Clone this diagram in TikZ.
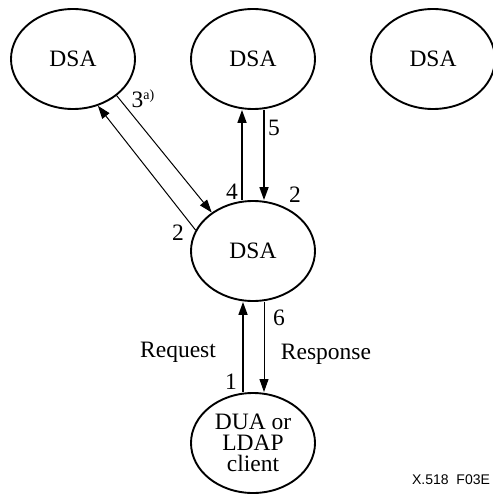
\documentclass[tikz,border=0pt]{standalone}
\usepackage{fontspec}
\setmainfont{Liberation Serif}
\newfontfamily\figsans{Liberation Sans}
\usetikzlibrary{shapes.geometric,arrows.meta}

\begin{document}
\begin{tikzpicture}[x=1pt,y=-1pt]
\tikzstyle{dsa}=[ellipse, draw=black, line width=1.9pt, minimum width=124pt, minimum height=100pt, inner sep=0pt, align=center, font=\fontsize{23.5}{21}\selectfont]
\tikzstyle{boldarr}=[line width=1.7pt, -{Triangle[length=13pt,width=9pt]}]
\tikzstyle{thinarr}=[line width=1pt, -{Triangle[length=13pt,width=9pt]}]
\tikzstyle{num}=[inner sep=0pt, font=\fontsize{23.5}{23.5}\selectfont]

\useasboundingbox (0,0) rectangle (492,497);

\node (dsaleft) at (73,59) [dsa] {DSA};
\node (dsatop) at (253,59) [dsa] {DSA};
\node (dsaright) at (433,59) [dsa] {DSA};
\node (dsamid) at (253,251) [dsa] {DSA};
\node (client) at (253,443) [dsa] {DUA or\\LDAP\\client};

\draw[thinarr] (dsamid.160) -- (dsaleft.-62);
\draw[thinarr] (dsaleft.-40) -- (dsamid.137);
\draw[boldarr] ([xshift=-11pt]dsamid.north) -- ([xshift=-11pt]dsatop.south);
\draw[boldarr] ([xshift=11pt]dsatop.south) -- ([xshift=11pt]dsamid.north);
\draw[boldarr] ([xshift=-10pt]client.north) -- ([xshift=-10pt]dsamid.south);
\draw[thinarr] ([xshift=11pt]dsamid.south) -- ([xshift=11pt]client.north);

\node (n3) at (143,99) [num] {3\raisebox{8pt}{\fontsize{14}{14}\selectfont a)}};
\node (n2a) at (178,233) [num] {2};
\node (n4) at (232,192) [num] {4};
\node (n5) at (274,128) [num] {5};
\node (n2b) at (295,195) [num] {2};
\node (n6) at (279,318) [num] {6};
\node (n1) at (231,382) [num] {1};
\node (req) at (178,352) [num] {Request};
\node (resp) at (326,354) [num] {Response};
\node (tag) at (451,480) [inner sep=0pt, font=\figsans\fontsize{14}{14}\selectfont] {X.518\ \ F03E};
\end{tikzpicture}
\end{document}
